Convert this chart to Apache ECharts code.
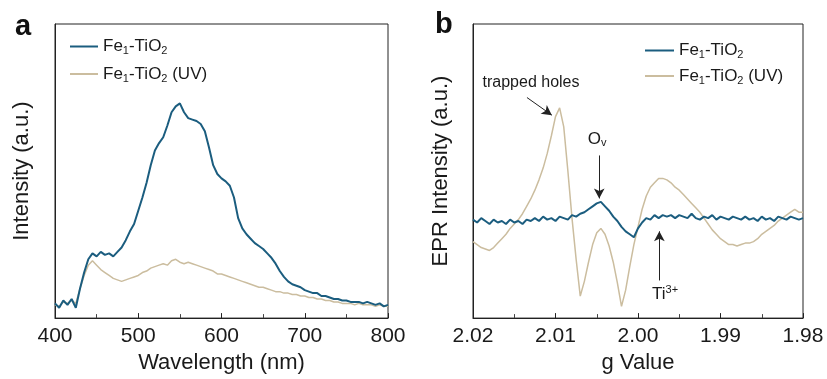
<!DOCTYPE html>
<html>
<head>
<meta charset="utf-8">
<script src="https://cdn.jsdelivr.net/npm/echarts@6/dist/echarts.min.js"></script>
<style>
html,body{margin:0;padding:0;background:#fff;}
#c{width:827px;height:379px;}
</style>
</head>
<body>
<div id="c"></div>
<script>
// ---------- Panel a : PL spectra ----------
const waveStart = 400, waveStep = 5;
const plBlue = [5,3.5,6,4.5,6.5,3.5,10,15.5,20,22,21,22.5,21.5,22,21,22.5,24,26.5,29.5,32,36.5,41,46,52,57,59.5,61.5,65.5,70,72,73,70,68,67.5,67,66,63.5,58,52,49,47.5,46.5,45,41,34,30.5,28.5,27,25.5,24.5,23.5,22,20.5,18.5,16,14,12.5,11.5,11,10.5,9.5,9,8.5,8.5,7.5,7.5,7,6.5,6.5,6,6,5.5,5.5,5.5,5,5.5,5,4.5,5,4,4.5];
const plBeige = [4.5,4,5.5,5,6,5,10,14.5,18,19.5,18,16.5,15.5,14.5,13.5,13,12.5,13,13.5,14,14.5,15.5,16,17,17.5,18,18.5,18,19.5,20,19,18.5,19,18.5,18,17.5,17,16.5,16,15,15,14.5,14,13.5,13,12.5,12,11.5,11,10.5,10.5,10,9.5,9,9,8.5,8.5,8,8,7.5,7.5,7,7,6.5,6.5,6,6,5.5,5.5,5,5,5,4.5,5,4.5,4.5,4.5,4,4.5,4,4];
const waveTicks = [400,500,600,700,800];

// ---------- Panel b : EPR ----------
const gStart = 2.0200, gStep = -0.0005;
const eprBlue = [33.5,32.5,34,33,32,33.5,32.5,33,32,33.5,32.5,33,32,33.5,33,34,33,34.5,33.5,34,33,34.5,34,33.5,35,34.5,35.5,36,37,38,39,39.5,38,36.5,34.5,33,31,29.5,28.5,27.5,30.5,32.5,34,33.5,35,34,35,34.5,35,34,35,34.5,34,35.5,34,33.5,34.5,34,35,33.5,34.5,34,33.5,34.5,34,33.5,34.5,33.5,34,33,34.5,33.5,34,33,34.5,34,33.5,34.5,34,33.5,34];
const eprBeige = [26,25,24,23.5,23,24,25.5,27,28.5,30.5,32,33.5,35.5,38,40.5,43.5,47,51,56,62,68.5,71.5,65,50,34,20,7.5,12.5,19,25,29,30.5,28.5,24.5,19,12,4,9.5,17.5,25,31,37,41.5,44.5,46,47.5,47.5,47,46,44.5,43.5,42,40.5,39,37.5,36,34,32,30,28.5,27,26,25,25,24.5,25,25.5,25.5,26,27,28.5,29.5,30.5,31.5,33,34,35,36,37,36,36];
const gTicks = [2.02,2.01,2.00,1.99,1.98];

const nameBlue = 'Fe1-TiO2';
const nameBeige = 'Fe1-TiO2 (UV)';

const BLUE = '#1b5d7f';
const BEIGE = '#cbbd9f';
const FONT = '"Liberation Sans", Arial, Helvetica, sans-serif';
const TXT = '#1a1a1a';

const pairsA = arr => arr.map((v,i)=>[waveStart + waveStep*i, v]);
const pairsB = arr => arr.map((v,i)=>[Math.round((gStart + gStep*i)*10000)/10000, v]);

const legendFmt = name => name === nameBlue
  ? '{n|Fe}{s|1}{n|-TiO}{s|2}'
  : '{n|Fe}{s|1}{n|-TiO}{s|2}{n| (UV)}';
const legendRich = {
  n:{fontSize:17, fontFamily:FONT, color:TXT},
  s:{fontSize:11, fontFamily:FONT, color:TXT, padding:[9,0,0,0]}
};

function xAxisCommon(){
  return {
    type:'value',
    nameLocation:'middle',
    nameGap:33,
    nameTextStyle:{fontSize:22, fontFamily:FONT, color:TXT},
    axisLine:{show:true, onZero:false, lineStyle:{color:'#222', width:1}},
    axisTick:{show:true, inside:true, length:5, lineStyle:{color:'#222'}},
    minorTick:{show:true, splitNumber:2, length:4, lineStyle:{color:'#444'}},
    axisLabel:{fontSize:21, fontFamily:FONT, color:TXT, margin:8},
    splitLine:{show:false}, minorSplitLine:{show:false}
  };
}
function yAxisCommon(){
  return {
    type:'value', min:0, max:100,
    nameLocation:'middle', nameRotate:90,
    nameTextStyle:{fontSize:22, fontFamily:FONT, color:TXT},
    axisLine:{show:true, lineStyle:{color:'#222', width:1}},
    axisTick:{show:false}, axisLabel:{show:false}, splitLine:{show:false}
  };
}

const chart = echarts.init(document.getElementById('c'), null, {renderer:'canvas'});
const option = {
  animation:false,
  backgroundColor:'#fff',
  title:[
    {text:'a', left:10, top:7, textStyle:{fontSize:29, fontWeight:'bold', fontFamily:FONT, color:'#111'}},
    {text:'b', left:430, top:5, textStyle:{fontSize:29, fontWeight:'bold', fontFamily:FONT, color:'#111'}}
  ],
  grid:[
    {left:55, top:24, width:333, height:298, show:true, borderColor:'#222', borderWidth:1, backgroundColor:'transparent'},
    {left:473, top:24, width:330, height:297, show:true, borderColor:'#222', borderWidth:1, backgroundColor:'transparent'}
  ],
  legend:[
    {data:[nameBlue, nameBeige], orient:'vertical', left:65, top:33, itemGap:9, itemWidth:28, itemHeight:2, icon:'rect',
     formatter:legendFmt, textStyle:{rich:legendRich}, selectedMode:false},
    {data:[nameBlue, nameBeige], orient:'vertical', left:640, top:37, itemGap:7, itemWidth:29, itemHeight:2, icon:'rect',
     formatter:legendFmt, textStyle:{rich:legendRich}, selectedMode:false}
  ],
  xAxis:[
    Object.assign(xAxisCommon(), {gridIndex:0, min:400, max:800, interval:100, name:'Wavelength (nm)'}),
    Object.assign(xAxisCommon(), {gridIndex:1, min:1.98, max:2.02, interval:0.01, inverse:true, name:'g Value',
      axisLabel:{fontSize:21, fontFamily:FONT, color:TXT, margin:8, formatter:v=>v.toFixed(2)}})
  ],
  yAxis:[
    Object.assign(yAxisCommon(), {gridIndex:0, name:'Intensity (a.u.)', nameGap:22}),
    Object.assign(yAxisCommon(), {gridIndex:1, name:'EPR Intensity (a.u.)', nameGap:21})
  ],
  series:[
    {name:nameBeige, type:'line', xAxisIndex:0, yAxisIndex:0, data:pairsA(plBeige), showSymbol:false,
     lineStyle:{color:BEIGE, width:1.5}, itemStyle:{color:BEIGE}, z:2},
    {name:nameBlue, type:'line', xAxisIndex:0, yAxisIndex:0, data:pairsA(plBlue), showSymbol:false,
     lineStyle:{color:BLUE, width:2}, itemStyle:{color:BLUE}, z:3},
    {name:nameBeige, type:'line', xAxisIndex:1, yAxisIndex:1, data:pairsB(eprBeige), showSymbol:false,
     lineStyle:{color:BEIGE, width:1.5}, itemStyle:{color:BEIGE}, z:2,
     markLine:{
       silent:true, symbol:['none','arrow'], symbolSize:[8,10],
       lineStyle:{color:'#222', width:1, type:'solid'}, label:{show:false},
       data:[
         [{coord:[2.01346,75]},{coord:[2.01044,69]}],
         [{coord:[2.0047,55.3]},{coord:[2.0047,40.7]}],
         [{coord:[1.99741,12.8]},{coord:[1.99741,29.5]}]
       ]
     },
     markPoint:{
       silent:true, symbol:'circle', symbolSize:0,
       label:{show:true, position:'inside', fontFamily:FONT, color:TXT},
       data:[
         {coord:[2.01297,80.1], label:{formatter:'trapped holes', fontSize:16}},
         {coord:[2.00495,60.9], label:{formatter:'{n|O}{s|v}', rich:{n:{fontSize:17,fontFamily:FONT,color:TXT}, s:{fontSize:11,fontFamily:FONT,color:TXT,padding:[8,0,0,0]}}}},
         {coord:[1.99672,8.1], label:{formatter:'{n|Ti}{s|3+}', rich:{n:{fontSize:17,fontFamily:FONT,color:TXT}, s:{fontSize:11,fontFamily:FONT,color:TXT,padding:[0,0,9,0]}}}}
       ]
     }},
    {name:nameBlue, type:'line', xAxisIndex:1, yAxisIndex:1, data:pairsB(eprBlue), showSymbol:false,
     lineStyle:{color:BLUE, width:2}, itemStyle:{color:BLUE}, z:3}
  ]
};
chart.setOption(option);
</script>
</body>
</html>
